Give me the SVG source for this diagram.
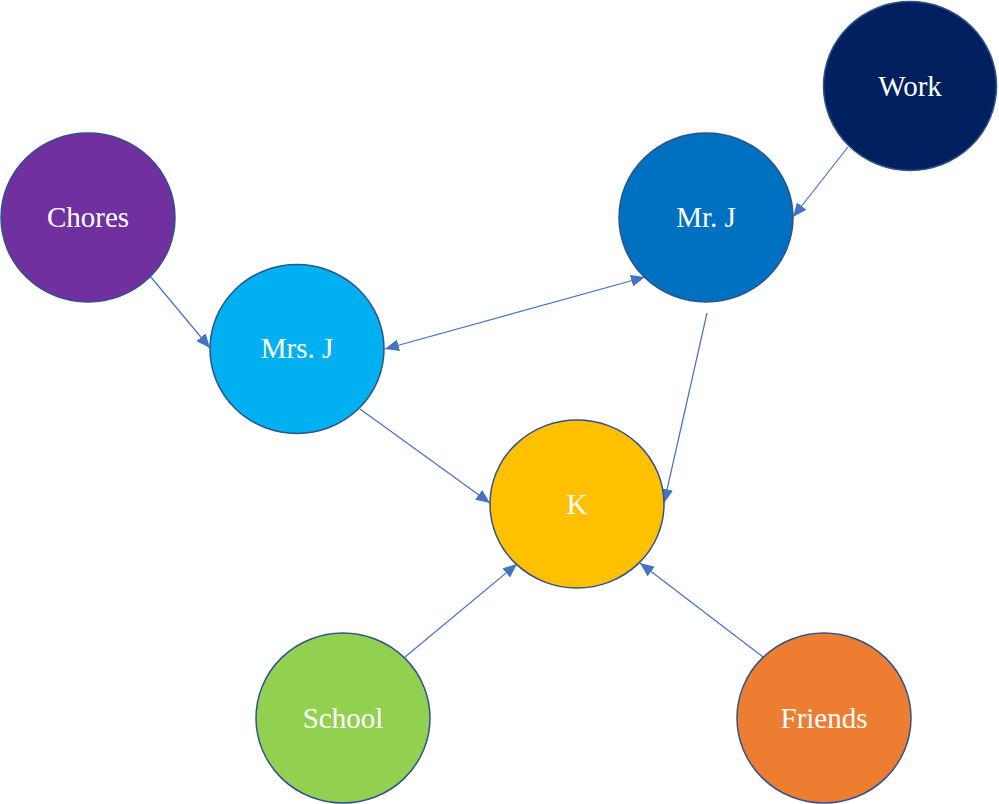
<svg xmlns="http://www.w3.org/2000/svg" width="999" height="804" viewBox="0 0 999 804">
<style>
.n{stroke:#2F528F;stroke-width:1.5}
.t{font-family:"Liberation Serif","Times New Roman",serif;font-size:29px;fill:#FFFFFF;text-anchor:middle}
.c{stroke:#4472C4;stroke-width:1.2;fill:none}
</style>
<defs>
<marker id="ah" markerUnits="userSpaceOnUse" markerWidth="14" markerHeight="12" viewBox="0 0 14 12" refX="14" refY="6" orient="auto-start-reverse">
<path d="M0,0 L14,6 L0,12 Z" fill="#4472C4"/>
</marker>
</defs>
<rect width="999" height="804" fill="#FFFFFF"/>
<g id="connectors">
<line class="c" x1="848" y1="147" x2="793" y2="217" marker-end="url(#ah)"/>
<line class="c" x1="150" y1="276" x2="210" y2="348" marker-end="url(#ah)"/>
<line class="c" x1="385" y1="349" x2="645" y2="277" marker-start="url(#ah)" marker-end="url(#ah)"/>
<line class="c" x1="360" y1="409" x2="490" y2="503" marker-end="url(#ah)"/>
<line class="c" x1="707" y1="313" x2="664" y2="503" marker-end="url(#ah)"/>
<line class="c" x1="405" y1="657" x2="517" y2="564" marker-end="url(#ah)"/>
<line class="c" x1="763" y1="657" x2="640" y2="563" marker-end="url(#ah)"/>
</g>
<g id="work"><ellipse class="n" cx="910" cy="86" rx="86.5" ry="84.5" fill="#002060"/><text class="t" x="910" y="96">Work</text></g>
<g id="chores"><ellipse class="n" cx="88" cy="217.5" rx="87" ry="84.5" fill="#7030A0"/><text class="t" x="88" y="227">Chores</text></g>
<g id="mrj"><ellipse class="n" cx="706" cy="217.5" rx="87" ry="84.5" fill="#0070C0"/><text class="t" x="706" y="227">Mr. J</text></g>
<g id="mrsj"><ellipse class="n" cx="297" cy="349" rx="87" ry="84.5" fill="#00B0F0"/><text class="t" x="297" y="358">Mrs. J</text></g>
<g id="k"><ellipse class="n" cx="577" cy="504" rx="87" ry="84" fill="#FFC000"/><text class="t" x="577" y="514">K</text></g>
<g id="school"><ellipse class="n" cx="343" cy="718" rx="87" ry="85" fill="#92D050"/><text class="t" x="343" y="728">School</text></g>
<g id="friends"><ellipse class="n" cx="824" cy="718" rx="87" ry="85" fill="#ED7D31"/><text class="t" x="824" y="728">Friends</text></g>
</svg>
